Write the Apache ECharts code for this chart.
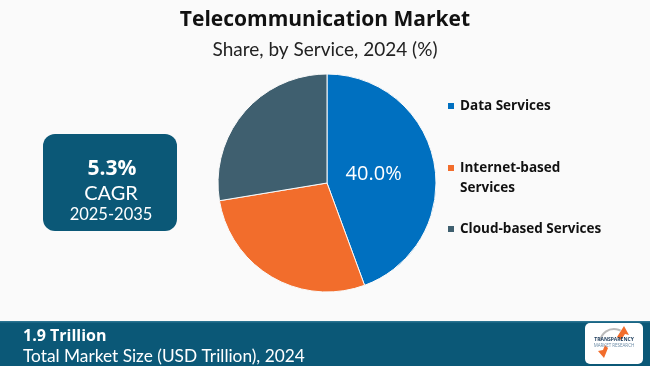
<!DOCTYPE html>
<html><head><meta charset="utf-8">
<script src="https://cdn.jsdelivr.net/npm/echarts@6/dist/echarts.min.js"></script>
<style>html,body{margin:0;padding:0;background:#fafafa}#c{width:650px;height:366px}</style>
</head><body><div id="c"></div>
<script>
const categories = ["Data Services", "Internet-based Services", "Cloud-based Services"];
const legendLabels = ["Data Services", "\nInternet-based\nServices", "Cloud-based Services"];
const shares = [44.4, 28.0, 27.6];
const sliceLabels = ["40.0%", "", ""];
const colors = ["#0070c0", "#f26d2c", "#3f5f6f"];
const cagrValue = "5.3%";
const cagrPeriod = "2025-2035";
const marketSize = "1.9 Trillion";
const marketSizeLabel = "Total Market Size (USD Trillion), 2024";

const chart = echarts.init(document.getElementById('c'), null, {renderer: 'canvas'});
const data = categories.map((n, i) => ({name: n, value: shares[i], itemStyle: {color: colors[i]}}));
const legendTops = [91, 133, 214];
const legendBase = {
  orient: 'vertical', left: 441, itemWidth: 8, itemHeight: 8, icon: 'rect',
  formatter: n => legendLabels[categories.indexOf(n)],
  textStyle: {fontFamily: 'Open Sans', fontWeight: 'bold', fontSize: 13.5, color: '#111', lineHeight: 20}
};
chart.setOption({
  backgroundColor: '#fafafa',
  animation: false,
  title: [{
    text: 'Telecommunication Market', left: 'center', top: 5,
    textStyle: {fontFamily: 'Open Sans', fontWeight: 'bold', fontSize: 21, color: '#111'}
  }, {
    text: 'Share, by Service, 2024 (%)', left: 'center', top: 35,
    textStyle: {fontFamily: 'Lato', fontWeight: 'normal', fontSize: 19, color: '#222'}
  }],
  legend: categories.map((c, i) => Object.assign({}, legendBase, {top: legendTops[i], data: [c]})),
  series: [{
    type: 'pie', center: [327, 183], radius: 109, startAngle: 90, clockwise: true,
    itemStyle: {borderColor: '#fafafa', borderWidth: 1},
    label: {
      show: true, position: 'inside', offset: [-10, 1],
      formatter: p => sliceLabels[p.dataIndex],
      color: '#fff', fontFamily: 'Open Sans', fontSize: 20, fontWeight: 500
    },
    labelLine: {show: false},
    emphasis: {disabled: true},
    data: data
  }],
  graphic: [
    {type: 'rect', shape: {x: 43, y: 134, width: 134, height: 97, r: 12}, style: {fill: '#0b5877'}},
    {type: 'text', x: 112, y: 169, style: {text: cagrValue, fill: '#fff', font: 'bold 21px "Open Sans"', textAlign: 'center', textVerticalAlign: 'middle'}},
    {type: 'text', x: 111, y: 194, style: {text: 'CAGR', fill: '#fff', font: '20px Lato', textAlign: 'center', textVerticalAlign: 'middle'}},
    {type: 'text', x: 111, y: 215, style: {text: cagrPeriod, fill: '#fff', font: '16.5px Lato', textAlign: 'center', textVerticalAlign: 'middle'}},
    {type: 'rect', shape: {x: 0, y: 321, width: 650, height: 45}, style: {fill: '#0b5877'}},
    {type: 'rect', shape: {x: 0, y: 321, width: 650, height: 1.5}, style: {fill: '#2a7391'}},
    {type: 'text', x: 23, y: 336, style: {text: marketSize, fill: '#fff', font: 'bold 16px "Open Sans"', textVerticalAlign: 'middle'}},
    {type: 'text', x: 23, y: 356, style: {text: marketSizeLabel, fill: '#fff', font: '17.3px Lato', textVerticalAlign: 'middle'}},
    {type: 'rect', shape: {x: 585, y: 323, width: 58, height: 41, r: 5}, style: {fill: '#ffffff'}},
    {type: 'polygon', shape: {points: [[617,337],[624,326],[629,335],[625,334],[621,340]]}, style: {fill: '#f26d2c'}},
    {type: 'polygon', shape: {points: [[598,351],[603,350],[605,345],[608,348],[604,358]]}, style: {fill: '#f26d2c'}},
    {type: 'arc', shape: {cx: 614, cy: 343, r: 14, startAngle: 3.3, endAngle: 5.2}, style: {stroke: '#bbb', lineWidth: 2, fill: null}},
    {type: 'text', x: 614, y: 340, style: {text: 'TRANSPARENCY', fill: '#1b3a5a', font: 'bold 5px "Open Sans"', textAlign: 'center', textVerticalAlign: 'middle'}},
    {type: 'text', x: 614, y: 346, style: {text: 'MARKET RESEARCH', fill: '#6a8aa5', font: '4.5px "Open Sans"', textAlign: 'center', textVerticalAlign: 'middle'}}
  ]
});
</script></body></html>
